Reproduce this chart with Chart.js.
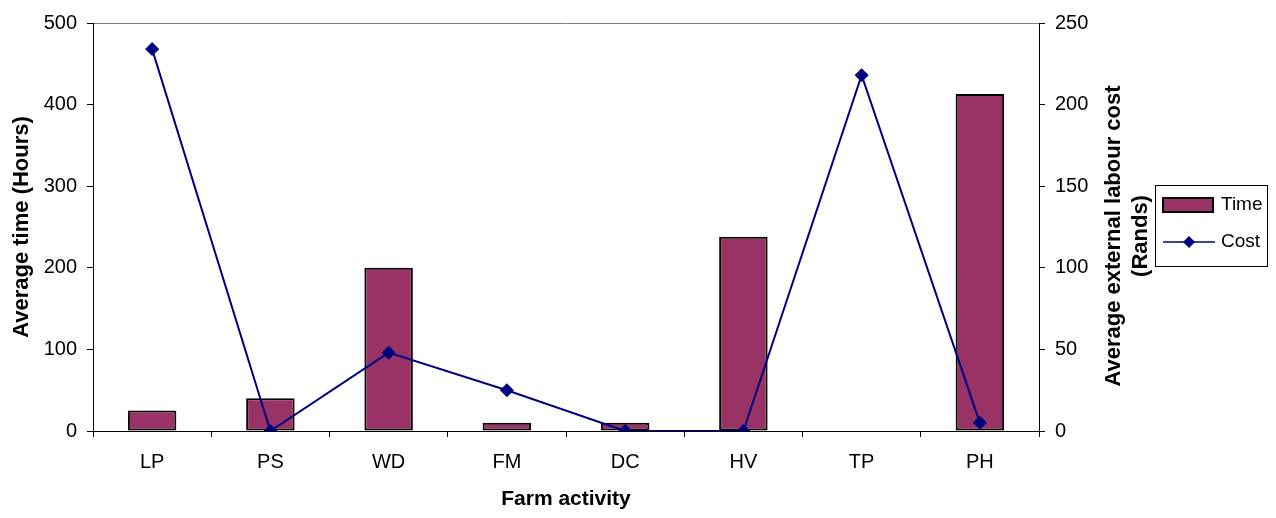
<!DOCTYPE html>
<html>
<head>
<meta charset="utf-8">
<script src="https://cdn.jsdelivr.net/npm/chart.js@4.4.0/dist/chart.umd.min.js"></script>
<style>
html, body { margin: 0; padding: 0; background: #ffffff; }
#wrap { width: 1276px; height: 518px; position: relative; }
</style>
</head>
<body>
<div id="wrap"><canvas id="c" width="1276" height="518"></canvas></div>
<script>
const categories = ['LP', 'PS', 'WD', 'FM', 'DC', 'HV', 'TP', 'PH'];
const timeHours = [25, 40, 200, 10, 10, 238, 0, 413];
const costRands = [234, 0, 48, 25, 0, 0, 218, 5];
const seriesNames = ['Time', 'Cost'];
const xTitle = 'Farm activity';
const leftTitle = 'Average time (Hours)';
const rightTitle = ['Average external labour cost', '(Rands)'];
const leftMax = 500, leftStep = 100;
const rightMax = 250, rightStep = 50;

const FONT = "'Liberation Sans', Arial, sans-serif";
const BAR_COLOR = '#993366';
const LINE_COLOR = '#000080';

const extras = {
  id: 'extras',
  afterDraw(chart) {
    const ctx = chart.ctx;
    ctx.save();
    // right axis title (reads bottom-to-top)
    ctx.fillStyle = '#000';
    ctx.font = 'bold 22px ' + FONT;
    ctx.textAlign = 'center';
    ctx.textBaseline = 'middle';
    const xs = [1114, 1141];
    rightTitle.forEach((t, i) => {
      ctx.save();
      ctx.translate(xs[i], 236);
      ctx.rotate(-Math.PI / 2);
      ctx.fillText(t, 0, 0);
      ctx.restore();
    });
    // legend
    ctx.lineWidth = 1;
    ctx.strokeStyle = '#000';
    ctx.fillStyle = '#fff';
    ctx.fillRect(1155.5, 185.5, 112, 81);
    ctx.strokeRect(1155.5, 185.5, 112, 81);
    ctx.fillStyle = BAR_COLOR;
    ctx.fillRect(1163, 198, 50, 14);
    ctx.lineWidth = 2;
    ctx.strokeRect(1163, 198, 50, 14);
    ctx.strokeStyle = LINE_COLOR;
    ctx.lineWidth = 1.5;
    ctx.beginPath();
    ctx.moveTo(1163, 242);
    ctx.lineTo(1215, 242);
    ctx.stroke();
    ctx.fillStyle = LINE_COLOR;
    ctx.beginPath();
    ctx.moveTo(1189, 236);
    ctx.lineTo(1195, 242);
    ctx.lineTo(1189, 248);
    ctx.lineTo(1183, 242);
    ctx.closePath();
    ctx.fill();
    ctx.fillStyle = '#000';
    ctx.font = '19px ' + FONT;
    ctx.textAlign = 'left';
    ctx.fillText(seriesNames[0], 1221, 205);
    ctx.fillText(seriesNames[1], 1221, 242);
    ctx.restore();
  }
};

new Chart(document.getElementById('c'), {
  data: {
    labels: categories,
    datasets: [
      {
        type: 'line',
        label: seriesNames[1],
        data: costRands,
        yAxisID: 'y1',
        borderColor: LINE_COLOR,
        backgroundColor: LINE_COLOR,
        borderWidth: 2,
        pointStyle: 'rectRot',
        pointRadius: 6.5,
        pointBackgroundColor: LINE_COLOR,
        pointBorderColor: LINE_COLOR,
        pointBorderWidth: 1,
        tension: 0,
        order: 0
      },
      {
        type: 'bar',
        label: seriesNames[0],
        data: timeHours,
        yAxisID: 'y',
        backgroundColor: BAR_COLOR,
        borderColor: '#000',
        borderWidth: 2,
        borderSkipped: false,
        barPercentage: 0.41,
        categoryPercentage: 1,
        order: 1
      }
    ]
  },
  options: {
    responsive: false,
    animation: false,
    devicePixelRatio: 1,
    layout: { padding: { top: 23, left: 0, right: 0, bottom: 0 } },
    plugins: { legend: { display: false }, tooltip: { enabled: false } },
    scales: {
      x: {
        type: 'category',
        offset: true,
        afterFit(s) { s.height = 87; },
        grid: { offset: true, drawOnChartArea: false, tickColor: '#000', tickLength: 6 },
        border: { color: '#000', width: 1 },
        ticks: { color: '#000', font: { family: FONT, size: 20 }, padding: 13, maxRotation: 0 },
        title: { display: true, text: xTitle, color: '#000', font: { family: FONT, size: 21, weight: 'bold' }, padding: { top: 0, bottom: 6 } }
      },
      y: {
        position: 'left',
        min: 0, max: leftMax,
        afterFit(s) { s.width = 93; },
        ticks: { stepSize: leftStep, color: '#000', font: { family: FONT, size: 20 }, padding: 10 },
        grid: {
          color: (c) => (c.tick && c.tick.value === leftMax) ? '#808080' : 'rgba(0,0,0,0)',
          tickColor: '#000', tickLength: 6
        },
        border: { color: '#000', width: 1 },
        title: { display: true, text: leftTitle, color: '#000', font: { family: FONT, size: 22, weight: 'bold' }, padding: { top: 9, bottom: 0 } }
      },
      y1: {
        position: 'right',
        min: 0, max: rightMax,
        afterFit(s) { s.width = 237; },
        ticks: { stepSize: rightStep, color: '#000', font: { family: FONT, size: 20 }, padding: 10 },
        grid: { drawOnChartArea: false, tickColor: '#000', tickLength: 6 },
        border: { color: '#000', width: 1 }
      }
    }
  },
  plugins: [extras]
});
</script>
</body>
</html>
